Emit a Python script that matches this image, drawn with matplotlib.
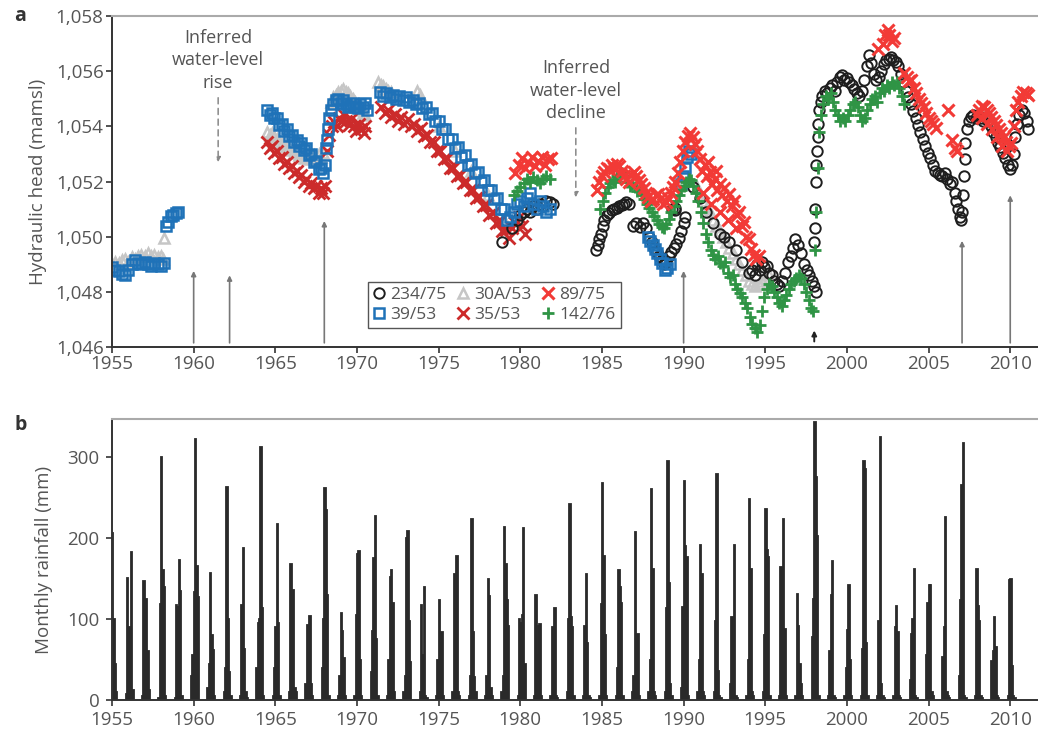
import matplotlib
matplotlib.use('Agg')
import matplotlib.pyplot as plt
from matplotlib.ticker import FuncFormatter
import numpy as np

plt.rcParams['font.family'] = ['Open Sans', 'DejaVu Sans']

# ---- panel a: hydraulic head (m amsl) per borehole ----
# 234/75
bh234_year = [1978.9, 1979.5, 1979.8, 1980.0, 1980.2, 1980.4, 1980.6, 1980.8, 1981.0, 1981.2,
              1981.4, 1981.6, 1981.8, 1982.0,
              1984.65, 1984.75, 1984.85, 1984.95, 1985.05, 1985.15, 1985.3, 1985.45, 1985.6, 1985.75,
              1985.9, 1986.05, 1986.2, 1986.35, 1986.5, 1986.65,
              1986.9, 1987.1, 1987.3, 1987.5, 1987.7,
              1987.9, 1988.05, 1988.2, 1988.35, 1988.5, 1988.65, 1988.8, 1988.95, 1989.1, 1989.25,
              1989.4, 1989.55, 1989.7, 1989.85, 1990.0, 1990.1, 1989.3, 1989.45, 1989.5,
              1990.6, 1991.0, 1991.4, 1991.8, 1992.2, 1992.5, 1992.8, 1993.2, 1993.6, 1994.0,
              1994.2, 1994.35, 1994.5, 1994.65, 1994.8, 1994.95, 1995.1, 1995.25, 1995.4, 1995.55,
              1995.7, 1995.85, 1996.0, 1996.2, 1996.4, 1996.55, 1996.7, 1996.85, 1997.0, 1997.2,
              1997.4, 1997.55, 1997.7, 1997.85, 1998.0, 1998.1,
              1998.0, 1998.03, 1998.06, 1998.1, 1998.13, 1998.17, 1998.2, 1998.25, 1998.3, 1998.4,
              1998.5, 1998.65, 1998.8, 1998.95, 1999.1, 1999.25, 1999.4, 1999.55, 1999.7, 1999.85,
              2000.0, 2000.15, 2000.3, 2000.45, 2000.6, 2000.75, 2000.9, 2001.05, 2001.2, 2001.35,
              2001.5, 2001.65, 2001.8, 2001.95, 2002.1, 2002.25, 2002.4, 2002.55, 2002.7, 2002.85,
              2003.0, 2003.15, 2003.3, 2003.45, 2003.6, 2003.75, 2003.9, 2004.05, 2004.2, 2004.35,
              2004.5, 2004.65, 2004.8, 2004.95, 2005.1, 2005.25, 2005.4, 2005.55, 2005.7, 2005.85,
              2006.0, 2006.15, 2006.3, 2006.45, 2006.6, 2006.7, 2006.8, 2006.9, 2007.0, 2007.05,
              2007.1, 2007.15, 2007.2, 2007.25, 2007.35, 2007.45, 2007.6, 2007.75, 2007.9, 2008.05,
              2008.2, 2008.35, 2008.5, 2008.65, 2008.8, 2008.95, 2009.1, 2009.25, 2009.4, 2009.55,
              2009.7, 2009.85, 2010.0, 2010.1, 2010.2, 2010.3, 2010.4, 2010.55, 2010.7, 2010.85,
              2011.0, 2011.1]
bh234_head = [1049.8, 1050.3, 1050.6, 1050.8, 1050.9, 1051.0, 1050.9, 1051.1, 1051.0, 1051.2,
              1051.1, 1051.3, 1051.25, 1051.2,
              1049.5, 1049.7, 1049.9, 1050.1, 1050.4, 1050.6, 1050.8, 1050.85, 1050.95, 1051.0,
              1051.05, 1051.1, 1051.15, 1051.2, 1051.25, 1051.2,
              1050.4, 1050.5, 1050.35, 1050.5, 1050.3,
              1050.0, 1049.8, 1049.6, 1049.45, 1049.3, 1049.15, 1049.0, 1049.1, 1049.3, 1049.45,
              1049.6, 1049.75, 1049.95, 1050.2, 1050.5, 1050.7, 1051.0, 1051.05, 1050.95,
              1051.8, 1051.4, 1050.9, 1050.5, 1050.1, 1050.0, 1049.8, 1049.5, 1049.1, 1048.7,
              1048.8, 1048.6, 1049.0, 1048.8, 1049.1, 1048.9, 1048.95, 1048.7, 1048.6, 1048.4,
              1048.3, 1048.2, 1048.4, 1048.7, 1049.1, 1049.3, 1049.6, 1049.9, 1049.7, 1049.4,
              1049.0, 1048.8, 1048.6, 1048.4, 1048.2, 1048.0,
              1049.8, 1050.3, 1051.0, 1052.0, 1052.6, 1053.1, 1053.6, 1054.1, 1054.6, 1054.9,
              1055.1, 1055.3, 1055.2, 1055.4, 1055.5, 1055.3, 1055.6, 1055.8, 1055.85, 1055.7,
              1055.75, 1055.6, 1055.5, 1055.35, 1055.2, 1055.1, 1055.3, 1055.7, 1056.2, 1056.6,
              1056.3, 1055.9, 1055.7, 1055.8, 1056.0, 1056.25, 1056.4, 1056.45, 1056.5, 1056.4,
              1056.35, 1056.2, 1055.9, 1055.6, 1055.3, 1055.05, 1054.8, 1054.55, 1054.3, 1054.05,
              1053.8, 1053.55, 1053.3, 1053.05, 1052.85, 1052.6, 1052.4, 1052.3, 1052.25, 1052.2,
              1052.3, 1052.1, 1051.9, 1052.0, 1051.6, 1051.3, 1051.0, 1050.7, 1050.6, 1050.9,
              1051.5, 1052.2, 1052.8, 1053.4, 1053.9, 1054.2, 1054.35, 1054.4, 1054.3, 1054.4,
              1054.3, 1054.2, 1054.35, 1054.2, 1054.0, 1053.8, 1053.6, 1053.4, 1053.25, 1053.05,
              1052.85, 1052.6, 1052.45, 1052.6, 1053.0, 1053.6, 1054.1, 1054.4, 1054.6, 1054.5,
              1054.2, 1053.9]

# 39/53
bh39_year = [1955.0, 1955.2, 1955.4, 1955.6, 1955.8, 1956.0, 1956.2, 1956.4, 1956.6, 1956.8,
             1957.0, 1957.2, 1957.4, 1957.6, 1957.8, 1958.0, 1958.2,
             1958.3, 1958.45, 1958.6, 1958.75, 1958.9, 1959.05,
             1964.5, 1964.65, 1964.8, 1964.95, 1965.1, 1965.25, 1965.4, 1965.55, 1965.7, 1965.85,
             1966.0, 1966.15, 1966.3, 1966.45, 1966.6, 1966.75, 1966.9, 1967.05, 1967.2, 1967.35,
             1967.5, 1967.65, 1967.8, 1967.95, 1968.05,
             1968.1, 1968.15, 1968.2, 1968.3, 1968.4, 1968.55, 1968.7, 1968.85, 1969.0, 1969.15,
             1969.3, 1969.45, 1969.6, 1969.75, 1969.9, 1970.05, 1970.2, 1970.35, 1970.5, 1970.6,
             1971.4, 1971.6, 1971.8, 1972.0, 1972.2, 1972.4, 1972.6, 1972.8, 1973.0, 1973.2,
             1973.4, 1973.6, 1973.8, 1974.0, 1974.2, 1974.4, 1974.6, 1974.8, 1975.0, 1975.2,
             1975.4, 1975.6, 1975.8, 1976.0, 1976.2, 1976.4, 1976.6, 1976.8, 1977.0, 1977.2,
             1977.4, 1977.6, 1977.8, 1978.0, 1978.2, 1978.4, 1978.6, 1978.8, 1979.0, 1979.2,
             1979.4, 1979.6, 1979.8, 1980.0, 1980.2, 1980.4, 1980.6, 1980.8, 1981.0, 1981.2,
             1981.4, 1981.6, 1981.8,
             1987.8, 1987.95, 1988.1, 1988.25, 1988.4, 1988.55, 1988.7, 1988.85, 1989.0, 1989.15,
             1989.85, 1989.95, 1990.1, 1990.2, 1990.3, 1990.45]
bh39_head = [1048.9, 1048.8, 1048.75, 1048.65, 1048.6, 1048.8, 1049.0, 1049.15, 1049.05, 1049.0,
             1049.1, 1049.0, 1048.95, 1049.05, 1049.0, 1048.95, 1049.05,
             1050.4, 1050.55, 1050.75, 1050.8, 1050.85, 1050.9,
             1054.6, 1054.4, 1054.5, 1054.3, 1054.3, 1054.05, 1054.1, 1053.85, 1053.9, 1053.65,
             1053.7, 1053.45, 1053.5, 1053.3, 1053.4, 1053.15, 1053.2, 1052.95, 1053.0, 1052.7,
             1052.75, 1052.45, 1052.5, 1052.3, 1052.6,
             1053.2, 1053.5, 1053.9, 1054.3, 1054.6, 1054.8, 1054.95, 1055.0, 1054.85, 1054.95,
             1054.8, 1054.7, 1054.75, 1054.85, 1054.7, 1054.65, 1054.8, 1054.7, 1054.85, 1054.6,
             1055.25, 1055.1, 1055.2, 1055.05, 1055.15, 1055.0, 1055.1, 1054.95, 1055.05, 1054.9,
             1054.95, 1054.8, 1054.85, 1054.65, 1054.7, 1054.45, 1054.5, 1054.2, 1054.2, 1053.9,
             1053.9, 1053.55, 1053.55, 1053.2, 1053.25, 1052.9, 1052.95, 1052.6, 1052.65, 1052.3,
             1052.35, 1052.0, 1052.05, 1051.7, 1051.7, 1051.35, 1051.4, 1051.0, 1051.0, 1050.6,
             1050.7, 1050.9, 1051.2, 1051.3, 1051.1, 1051.4, 1051.6, 1051.2, 1051.0, 1051.3,
             1051.1, 1050.9, 1051.0,
             1050.0, 1049.85, 1049.7, 1049.55, 1049.4, 1049.2, 1049.05, 1048.8, 1048.85, 1049.0,
             1051.9, 1052.2, 1052.5, 1052.9, 1053.1, 1053.0]

# 30A/53
bh30a_year = [1955.0, 1955.2, 1955.4, 1955.6, 1955.8, 1956.0, 1956.2, 1956.4, 1956.6, 1956.8,
              1957.0, 1957.2, 1957.4, 1957.6, 1957.8, 1958.0, 1958.15, 1958.2,
              1964.5, 1964.65, 1964.8, 1964.95, 1965.1, 1965.25, 1965.4, 1965.55, 1965.7, 1965.85,
              1966.0, 1966.15, 1966.3, 1966.45, 1966.6, 1966.75, 1966.9, 1967.05, 1967.2, 1967.35,
              1967.5, 1967.65, 1967.8, 1967.95,
              1968.4, 1968.55, 1968.7, 1968.85, 1969.0, 1969.15, 1969.3, 1969.45, 1969.6, 1969.75,
              1969.9, 1970.05, 1970.2, 1970.35, 1970.5,
              1971.3, 1971.45, 1971.6, 1971.75, 1971.9, 1972.1, 1973.7, 1973.85, 1975.0, 1976.0,
              1977.0, 1978.0, 1979.0,
              1990.8, 1991.0, 1991.2, 1991.4, 1991.6, 1991.8, 1992.0, 1992.2, 1992.4, 1992.6,
              1992.8, 1993.0, 1993.2, 1993.4, 1993.6, 1993.8, 1994.0, 1994.2, 1994.4, 1994.6,
              1994.8, 1995.0, 1995.2]
bh30a_head = [1049.0, 1049.1, 1049.05, 1049.15, 1049.2, 1049.1, 1049.25, 1049.2, 1049.3, 1049.35,
              1049.3, 1049.4, 1049.3, 1049.35, 1049.25, 1049.3, 1049.2, 1049.95,
              1053.8, 1053.7, 1053.75, 1053.6, 1053.55, 1053.45, 1053.4, 1053.3, 1053.3, 1053.2,
              1053.15, 1053.05, 1053.1, 1052.95, 1053.0, 1052.85, 1052.9, 1052.8, 1052.85, 1052.95,
              1052.85, 1053.0, 1052.9, 1053.05,
              1054.9, 1055.05, 1055.15, 1055.25, 1055.3, 1055.35, 1055.25, 1055.2, 1055.1, 1055.0,
              1054.9, 1054.8, 1054.6, 1054.5, 1054.4,
              1055.6, 1055.5, 1055.45, 1055.35, 1055.3, 1055.25, 1055.3, 1055.15, 1054.0, 1053.1,
              1052.4, 1051.5, 1050.6,
              1051.8, 1051.5, 1051.3, 1051.0, 1050.9, 1050.6, 1050.4, 1050.2, 1050.0, 1049.8,
              1049.6, 1049.4, 1049.2, 1049.0, 1048.8, 1048.6, 1048.4, 1048.3, 1048.2, 1048.3,
              1048.4, 1048.5, 1048.6]

# 35/53
bh35_year = [1964.5, 1964.65, 1964.8, 1964.95, 1965.1, 1965.25, 1965.4, 1965.55, 1965.7, 1965.85,
             1966.0, 1966.15, 1966.3, 1966.45, 1966.6, 1966.75, 1966.9, 1967.05, 1967.2, 1967.35,
             1967.5, 1967.65, 1967.8, 1967.95, 1968.05,
             1968.15, 1968.3, 1968.45, 1968.6, 1968.75, 1968.9, 1969.05, 1969.2, 1969.35, 1969.5,
             1969.65, 1969.8, 1969.95, 1970.1, 1970.25, 1970.4, 1970.5,
             1971.5, 1971.7, 1971.9, 1972.1, 1972.3, 1972.5, 1972.7, 1972.9, 1973.1, 1973.3,
             1973.5, 1973.7, 1973.9, 1974.1, 1974.3, 1974.5, 1974.7, 1974.9, 1975.1, 1975.3,
             1975.5, 1975.7, 1975.9, 1976.1, 1976.3, 1976.5, 1976.7, 1976.9, 1977.1, 1977.3,
             1977.5, 1977.7, 1977.9, 1978.1, 1978.3, 1978.5, 1978.7, 1978.9, 1979.1, 1979.3,
             1979.5, 1979.7, 1979.9, 1980.1, 1980.3]
bh35_head = [1053.45, 1053.2, 1053.3, 1053.05, 1053.1, 1052.85, 1052.9, 1052.65, 1052.7, 1052.5,
             1052.55, 1052.3, 1052.4, 1052.15, 1052.25, 1052.0, 1052.1, 1051.85, 1051.95, 1051.75,
             1051.85, 1051.6, 1051.75, 1051.6, 1051.85,
             1053.1, 1053.7, 1054.0, 1054.15, 1054.0, 1054.3, 1054.2, 1054.4, 1054.2, 1054.05,
             1054.25, 1054.0, 1053.85, 1054.1, 1053.9, 1053.75, 1054.0,
             1054.7, 1054.5, 1054.6, 1054.35, 1054.45, 1054.2, 1054.35, 1054.1, 1054.25, 1054.0,
             1054.1, 1053.85, 1053.95, 1053.65, 1053.7, 1053.45, 1053.45, 1053.1, 1053.1, 1052.8,
             1052.85, 1052.5, 1052.5, 1052.2, 1052.25, 1051.95, 1052.0, 1051.7, 1051.7, 1051.4,
             1051.45, 1051.1, 1051.15, 1050.8, 1050.85, 1050.5, 1050.55, 1050.2, 1050.25, 1049.95,
             1050.3, 1050.5, 1050.7, 1050.4, 1050.1]

# 89/75
bh89_year = [1979.7, 1979.9, 1980.1, 1980.3, 1980.5, 1980.7, 1980.9, 1981.1, 1981.3, 1981.5,
             1981.7, 1981.9,
             1984.7, 1984.85, 1985.0, 1985.15, 1985.3, 1985.45, 1985.6, 1985.75, 1985.9, 1986.05,
             1986.2, 1986.35, 1986.5, 1986.65, 1986.8, 1986.95, 1987.1, 1987.25, 1987.4, 1987.55,
             1987.7, 1987.85, 1988.0, 1988.15, 1988.3, 1988.45, 1988.6, 1988.75, 1988.9, 1989.05,
             1989.2, 1989.35, 1989.5, 1989.65, 1989.8, 1989.95, 1990.1, 1990.25, 1990.4, 1990.55,
             1990.7, 1990.85, 1991.0, 1991.15, 1991.3, 1991.45, 1991.6, 1991.75, 1991.9, 1992.05,
             1992.2, 1992.35, 1992.5, 1992.65, 1992.8, 1992.95, 1993.1, 1993.25, 1993.4, 1993.55,
             1993.7, 1993.85, 1994.0, 1994.15, 1994.3, 1994.45, 1994.6,
             1991.2, 1991.7, 1992.2, 1992.7, 1993.2, 1991.5, 1992.0,
             2001.9, 2002.2, 2002.35, 2002.5, 2002.6, 2002.75, 2002.9, 2003.5, 2003.65, 2003.8,
             2003.95, 2004.1, 2004.25, 2004.4, 2004.55, 2004.7, 2004.85, 2005.0, 2005.15, 2005.3,
             2005.45, 2006.2, 2006.45, 2006.6, 2006.75,
             2007.95, 2008.1, 2008.25, 2008.4, 2008.55, 2008.7, 2008.85, 2009.0, 2009.15, 2009.3,
             2009.45, 2009.6, 2009.75, 2009.9, 2010.05, 2010.2, 2010.35, 2010.5, 2010.65, 2010.8,
             2010.95, 2011.1,
             2008.3, 2008.6, 2008.9, 2009.2, 2009.5, 2009.8]
bh89_head = [1052.3, 1052.6, 1052.85, 1052.5, 1052.7, 1052.9, 1052.55, 1052.75, 1052.9, 1052.6,
             1052.8, 1052.85,
             1051.7, 1052.0, 1052.2, 1052.35, 1052.5, 1052.45, 1052.6, 1052.5, 1052.65, 1052.55,
             1052.4, 1052.2, 1052.1, 1052.0, 1052.25, 1052.35, 1052.2, 1052.05, 1051.9, 1051.75,
             1051.6, 1051.45, 1051.3, 1051.35, 1051.5, 1051.55, 1051.4, 1051.2, 1051.25, 1051.4,
             1051.6, 1051.8, 1052.0, 1052.3, 1052.7, 1053.1, 1053.45, 1053.65, 1053.75, 1053.6,
             1053.35, 1053.1, 1052.8, 1052.4, 1052.6, 1052.2, 1052.35, 1051.9, 1052.1, 1051.7,
             1051.9, 1051.5, 1051.75, 1051.3, 1051.55, 1051.1, 1051.3, 1050.8, 1050.9, 1050.4,
             1050.55, 1050.0, 1049.9, 1049.55, 1049.35, 1049.2, 1049.3,
             1051.6, 1051.2, 1050.9, 1050.6, 1050.3, 1052.7, 1052.4,
             1056.8, 1057.0, 1057.3, 1057.5, 1057.3, 1057.1, 1057.2, 1055.95, 1055.8, 1055.65,
             1055.7, 1055.4, 1055.2, 1055.0, 1054.85, 1054.7, 1054.5, 1054.3, 1054.2, 1054.1,
             1053.95, 1054.6, 1053.5, 1053.2, 1053.1,
             1054.4, 1054.6, 1054.75, 1054.7, 1054.6, 1054.5, 1054.35, 1054.2, 1054.05, 1053.9,
             1053.75, 1053.6, 1053.45, 1053.3, 1053.4, 1054.0, 1054.6, 1054.9, 1055.1, 1055.25,
             1055.2, 1055.15,
             1054.3, 1054.1, 1053.9, 1053.6, 1053.3, 1053.1]

# 142/76
bh142_year = [1979.6, 1979.8, 1980.0, 1980.2, 1980.4, 1980.6, 1980.8, 1981.0, 1981.2, 1981.4,
              1981.6, 1981.8,
              1984.9, 1985.05, 1985.2, 1985.35, 1985.5, 1985.65, 1985.8, 1985.95, 1986.1, 1986.25,
              1986.4, 1986.55, 1986.7, 1986.85, 1987.0, 1987.15, 1987.3, 1987.45, 1987.6, 1987.75,
              1987.9, 1988.05, 1988.2, 1988.35, 1988.5, 1988.65, 1988.8, 1988.95, 1989.1, 1989.25,
              1989.4, 1989.55, 1989.7, 1989.85, 1990.0, 1990.15, 1990.3, 1990.45, 1990.6, 1990.75,
              1990.9, 1991.05, 1991.2, 1991.35, 1991.5, 1991.65, 1991.8, 1991.95, 1992.1, 1992.25,
              1992.4, 1992.55, 1992.7, 1992.85, 1993.0, 1993.15, 1993.3, 1993.45, 1993.6, 1993.75,
              1993.9, 1994.05, 1994.2, 1994.35, 1994.5, 1994.65, 1994.8, 1994.95, 1995.1, 1995.25,
              1995.4, 1995.55, 1995.7, 1995.85, 1996.0, 1996.15, 1996.3, 1996.45, 1996.6, 1996.75,
              1996.9, 1997.05, 1997.2, 1997.35, 1997.5, 1997.65, 1997.8, 1997.95,
              1998.05, 1998.1, 1998.2, 1998.3, 1998.4, 1998.55, 1998.7, 1998.85, 1999.0, 1999.15,
              1999.3, 1999.45, 1999.6, 1999.75, 1999.9, 2000.05, 2000.2, 2000.35, 2000.5, 2000.65,
              2000.8, 2000.95, 2001.1, 2001.25, 2001.4, 2001.55, 2001.7, 2001.85, 2002.0, 2002.15,
              2002.3, 2002.45, 2002.6, 2002.75, 2002.9, 2003.05, 2003.2, 2003.35, 2003.5]
bh142_head = [1051.5, 1051.65, 1051.8, 1051.95, 1052.1, 1052.0, 1052.15, 1052.05, 1051.95, 1052.1,
              1052.2, 1052.1,
              1051.0, 1051.3, 1051.6, 1051.8, 1051.95, 1052.05, 1052.0, 1052.2, 1052.25, 1052.3,
              1052.2, 1052.0, 1051.85, 1051.9, 1051.8, 1051.65, 1051.7, 1051.5, 1051.35, 1051.2,
              1051.05, 1050.9, 1050.75, 1050.6, 1050.45, 1050.35, 1050.3, 1050.45, 1050.65, 1050.9,
              1051.1, 1051.3, 1051.5, 1051.7, 1051.85, 1052.0, 1052.1, 1052.05, 1051.85, 1051.6,
              1051.3, 1050.9, 1050.5, 1050.1, 1049.8, 1049.5, 1049.35, 1049.2, 1049.3, 1049.05,
              1048.95, 1049.1, 1048.7, 1048.55, 1048.6, 1048.3, 1048.1, 1047.95, 1047.8, 1047.6,
              1047.4, 1047.1, 1046.85, 1046.7, 1046.55, 1046.8, 1047.3, 1047.8, 1048.1, 1048.3,
              1048.2, 1048.0, 1047.8, 1047.6, 1047.5, 1047.7, 1047.9, 1048.1, 1048.3, 1048.4,
              1048.5, 1048.6, 1048.5, 1048.3, 1048.0, 1047.7, 1047.4, 1047.3,
              1049.5, 1050.9, 1052.5, 1053.8, 1054.4, 1054.8, 1055.1, 1055.0, 1055.2, 1054.9,
              1054.6, 1054.4, 1054.2, 1054.3, 1054.2, 1054.4, 1054.6, 1054.8, 1054.9, 1054.7,
              1054.4, 1054.2, 1054.3, 1054.6, 1054.8, 1055.0, 1055.1, 1054.9, 1055.2, 1055.4,
              1055.3, 1055.5, 1055.4, 1055.6, 1055.5, 1055.6, 1055.4, 1055.1, 1054.8]

# recharge arrows (year, head reached) and inferred-change arrows
up_arrow_year = [1960.0, 1962.2, 1968.0, 1990.0, 2007.05, 2010.0]
up_arrow_head = [1048.86, 1048.7, 1050.67, 1048.86, 1049.95, 1051.6]
note_year = [1961.5, 1983.4]
note_top = [1055.14, 1054.05]
note_tip = [1052.6, 1051.33]
note_text = ['Inferred\nwater-level\nrise', 'Inferred\nwater-level\ndecline']

# ---- panel b: monthly rainfall (mm), wet season Nov..Apr for each year ----
rain_years = list(range(1955, 2011))
rain_season = [
    [0, 0, 206, 100, 45, 10], [8, 151, 90, 60, 183, 12], [5, 147, 108, 125, 60, 12],
    [2, 118, 300, 160, 140, 5], [3, 117, 115, 173, 135, 5], [30, 55, 133, 322, 165, 127],
    [15, 45, 157, 80, 62, 5], [10, 40, 263, 100, 35, 5], [5, 117, 188, 63, 10, 3],
    [40, 95, 100, 313, 113, 5], [5, 40, 90, 217, 95, 5], [10, 168, 110, 136, 15, 10],
    [20, 93, 58, 104, 20, 5], [40, 100, 262, 235, 130, 5], [5, 30, 107, 85, 52, 5],
    [5, 105, 180, 184, 50, 5], [35, 85, 175, 227, 75, 5], [5, 50, 152, 160, 120, 10],
    [10, 30, 200, 209, 97, 47], [10, 117, 55, 140, 5, 3], [5, 50, 123, 70, 84, 5],
    [10, 155, 112, 178, 10, 5], [5, 30, 224, 84, 28, 10], [5, 30, 150, 128, 15, 5],
    [10, 30, 214, 168, 123, 92], [5, 100, 95, 105, 213, 45], [5, 130, 56, 92, 94, 5],
    [5, 90, 60, 113, 5, 3], [10, 100, 242, 102, 90, 5], [5, 92, 155, 70, 5, 3],
    [5, 118, 268, 178, 80, 5], [5, 40, 160, 140, 120, 5], [10, 30, 208, 80, 82, 5],
    [10, 50, 260, 162, 10, 5], [10, 114, 295, 145, 20, 5], [15, 115, 270, 190, 176, 5],
    [10, 50, 192, 155, 10, 5], [10, 98, 279, 36, 5, 3], [20, 102, 73, 192, 5, 3],
    [5, 50, 248, 162, 10, 5], [10, 80, 236, 185, 176, 5], [5, 164, 160, 223, 88, 5],
    [5, 131, 92, 45, 20, 5], [78, 125, 343, 276, 202, 5], [5, 60, 130, 172, 5, 3],
    [5, 40, 86, 142, 50, 5], [5, 63, 295, 285, 70, 5], [5, 97, 325, 20, 5, 3],
    [5, 90, 116, 84, 5, 3], [25, 82, 100, 162, 5, 3], [55, 120, 142, 142, 10, 5],
    [53, 90, 226, 10, 5, 3], [30, 123, 265, 317, 5, 3], [5, 162, 116, 97, 5, 3],
    [48, 60, 103, 65, 5, 3], [5, 148, 150, 42, 5, 3],
]
season_months = [-2, -1, 0, 1, 2, 3]  # Nov, Dec, Jan, Feb, Mar, Apr

txt = '#555555'
fig = plt.figure(figsize=(10.38, 7.31), dpi=100)
ax = fig.add_axes([0.1079, 0.5253, 0.8921, 0.4527])
axb = fig.add_axes([0.1079, 0.0424, 0.8921, 0.3844])

# hydraulic head series
ax.plot(bh30a_year, bh30a_head, ls='none', marker='^', ms=7.5, mfc='none', mec='#c6c6c6', mew=1.8, label='30A/53')
ax.plot(bh35_year, bh35_head, ls='none', marker='x', ms=8, mec='#cc2b2b', mew=2.0, label='35/53')
ax.plot(bh234_year, bh234_head, ls='none', marker='o', ms=7.5, mfc='none', mec='#1e1e1e', mew=1.4, label='234/75')
ax.plot(bh39_year, bh39_head, ls='none', marker='s', ms=7.5, mfc='none', mec='#1f72b8', mew=1.8, label='39/53')
ax.plot(bh142_year, bh142_head, ls='none', marker='+', ms=9, mec='#2f9445', mew=2.0, label='142/76')
ax.plot(bh89_year, bh89_head, ls='none', marker='x', ms=8, mec='#f23a36', mew=2.2, label='89/75')

for yr, hd in zip(up_arrow_year, up_arrow_head):
    ax.annotate('', xy=(yr, hd), xytext=(yr, 1046.05),
                arrowprops=dict(arrowstyle='-|>', color='#777777', lw=1.2, mutation_scale=7))
ax.annotate('', xy=(1998.0, 1046.7), xytext=(1998.0, 1046.1),
            arrowprops=dict(arrowstyle='-|>', color='#222222', lw=1.4, mutation_scale=7))
for yr, top, tip, t in zip(note_year, note_top, note_tip, note_text):
    ax.annotate('', xy=(yr, tip), xytext=(yr, top),
                arrowprops=dict(arrowstyle='-|>', color='#888888', lw=1.1, ls=(0, (4, 3)), mutation_scale=7))
    ax.text(yr, top + 0.12, t, ha='center', va='bottom', fontsize=13, color=txt, linespacing=1.3)

ax.set_xlim(1955, 2011.7)
ax.set_ylim(1046, 1058)
ax.set_yticks(np.arange(1046, 1059, 2))
ax.yaxis.set_major_formatter(FuncFormatter(lambda v, p: f'{int(v):,}'))
ax.set_ylabel('Hydraulic head (mamsl)', fontsize=13.5, color=txt, labelpad=6)

order = ['234/75', '39/53', '30A/53', '35/53', '89/75', '142/76']
handles, labels = ax.get_legend_handles_labels()
hmap = dict(zip(labels, handles))
leg = ax.legend([hmap[k] for k in order], order, ncol=3, loc='lower left',
                bbox_to_anchor=(0.276, 0.057), borderaxespad=0, fancybox=False,
                fontsize=12.5, handlelength=0.7, handletextpad=0.3, columnspacing=0.6,
                borderpad=0.3, labelspacing=0.2, edgecolor='#555555', framealpha=1)
for t in leg.get_texts():
    t.set_color(txt)
leg.get_frame().set_linewidth(1.0)

# rainfall bars
for yr, vals in zip(rain_years, rain_season):
    xs = [yr + m / 12 for m in season_months]
    axb.bar(xs, vals, width=1 / 12, color='#2a2a2a', edgecolor='#2a2a2a', linewidth=1.3, align='edge')

axb.set_xlim(1955, 2011.7)
axb.set_ylim(0, 347)
axb.set_yticks([0, 100, 200, 300])
axb.set_ylabel('Monthly rainfall (mm)', fontsize=13.5, color=txt, labelpad=10)

for a in (ax, axb):
    a.set_xticks(np.arange(1955, 2011, 5))
    a.spines['right'].set_visible(False)
    a.spines['top'].set_color('#aaaaaa')
    a.spines['top'].set_linewidth(1.5)
    a.spines['left'].set_color('#333333')
    a.spines['bottom'].set_color('#333333')
    a.spines['left'].set_linewidth(1.4)
    a.spines['bottom'].set_linewidth(1.4)
    a.tick_params(direction='out', length=4, width=1.2, color='#333333', labelsize=13.5,
                  labelcolor=txt, pad=2)
axb.tick_params(axis='y', pad=5)
axb.tick_params(axis='x', pad=4)

fig.text(0.014, 0.978, 'a', fontsize=14, fontweight='bold', color='#333333', va='center')
fig.text(0.014, 0.418, 'b', fontsize=14, fontweight='bold', color='#333333', va='center')

fig.savefig('out.png', dpi=100)
